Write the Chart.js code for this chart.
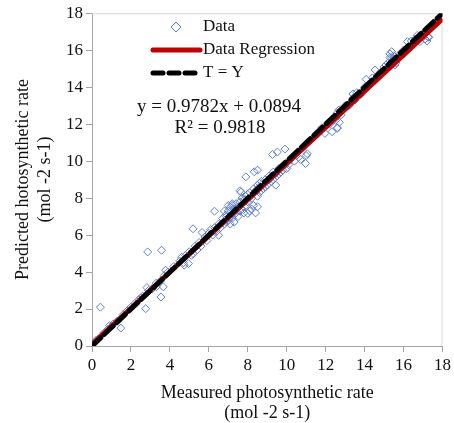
<!DOCTYPE html>
<html>
<head>
<meta charset="utf-8">
<script src="https://cdn.jsdelivr.net/npm/chart.js@4.4.1/dist/chart.umd.min.js"></script>
<style>
  html, body { margin: 0; padding: 0; background: #fff; }
  #wrap { width: 454px; height: 423px; }
</style>
</head>
<body>
<div id="wrap"><canvas id="scatterChart" width="454" height="423"></canvas></div>
<script>
// measured vs predicted photosynthetic rate
const measuredX = [
  0.43, 1.48, 2.76, 2.86, 3.57, 3.54, 3.66, 3.78, 2.82, 3.3, 5.19, 4.73, 4.95, 5.19, 5.65,
  6.29, 6.5, 7.65, 7.9, 8.33, 8.5, 8.0, 8.5, 9.27, 9.52, 9.91, 9.44, 10.97, 11.05, 10.71,
  11.96, 12.59, 12.67, 14.08, 14.54, 16.2, 17.26, 16.84, 15.56, 15.39, 13.4, 12.33,
  0.1, 0.2, 0.35, 0.6, 0.8, 0.9, 1.0, 1.1, 1.3, 1.6, 1.8, 2.0, 2.2, 2.4, 2.5, 2.6, 2.9,
  3.1, 3.3, 3.5, 3.7, 3.9, 4.2, 4.5, 4.6, 4.7, 4.8, 5.0, 5.1, 5.3, 5.4, 5.5, 5.6, 5.8,
  5.9, 6.0, 6.1, 6.2, 6.3, 6.4, 6.5, 6.6, 6.7, 6.8, 6.9, 6.9, 7.0, 7.0, 7.1, 7.1, 7.2,
  7.2, 7.3, 7.3, 7.4, 7.4, 7.5, 7.5, 7.6, 7.6, 7.7, 7.7, 7.8, 7.8, 7.9, 7.9, 8.0, 8.0,
  8.1, 8.1, 8.2, 8.2, 8.3, 8.3, 8.4, 8.4, 8.5, 8.5, 8.6, 8.6, 8.7, 8.7, 8.8, 8.8, 8.9,
  9.0, 9.1, 9.2, 9.3, 9.3, 9.4, 9.5, 9.6, 9.7, 9.8, 9.9, 10.0, 10.1, 10.2, 10.4, 10.5,
  10.6, 10.8, 11.0, 11.2, 11.4, 11.6, 11.8, 12.0, 12.2, 12.4, 12.5, 12.6, 12.8, 13.0,
  13.2, 13.4, 13.5, 13.6, 13.8, 14.0, 14.2, 14.4, 14.6, 14.8, 15.0, 15.1, 15.2, 15.3,
  15.4, 15.5, 15.5, 15.6, 15.8, 16.0, 16.2, 16.4, 16.6, 16.7, 16.9, 17.0, 17.1, 17.2, 17.3,
  6.8, 7.0, 7.2, 7.4, 7.1, 7.3, 6.9, 7.6, 8.6, 8.9, 9.1, 9.6, 12.6, 12.7, 15.3, 15.4, 15.6
];
const predictedY = [
  2.1, 0.97, 2.02, 5.09, 5.18, 2.65, 3.2, 4.1, 3.16, 3.2, 6.34, 4.37, 4.46, 5.0, 6.14,
  7.29, 5.99, 8.32, 9.15, 9.42, 9.51, 7.17, 7.53, 10.36, 10.49, 10.65, 8.7, 9.87, 10.4, 10.09,
  11.5, 11.77, 12.76, 14.42, 14.93, 16.46, 16.7, 16.46, 15.2, 15.92, 13.63, 11.59,
  0.15, 0.3, 0.4, 0.7, 0.9, 1.1, 1.05, 1.2, 1.35, 1.7, 1.9, 2.1, 2.3, 2.5, 2.6, 2.7, 3.0,
  3.1, 3.4, 3.5, 3.8, 4.0, 4.3, 4.6, 4.8, 4.5, 4.9, 5.1, 4.9, 5.4, 5.2, 5.6, 5.4, 5.9,
  5.7, 6.1, 6.3, 6.0, 6.4, 6.2, 6.6, 6.4, 6.9, 6.6, 7.1, 6.7, 7.3, 6.8, 7.5, 7.0, 7.6,
  6.9, 7.4, 7.1, 7.7, 7.2, 7.5, 7.0, 7.8, 7.3, 8.0, 7.4, 7.9, 7.2, 8.1, 7.6, 8.2, 7.8,
  8.3, 7.3, 8.0, 7.4, 8.5, 7.6, 8.4, 7.2, 8.7, 8.1, 8.6, 8.3, 8.9, 8.4, 8.8, 8.5, 9.0,
  8.7, 9.2, 8.9, 9.4, 9.0, 9.3, 9.2, 9.6, 9.4, 9.5, 9.8, 9.6, 9.8, 10.1, 10.0, 10.3,
  10.2, 10.7, 10.3, 11.1, 11.3, 11.5, 11.8, 11.9, 12.0, 12.3, 12.2, 12.6, 12.5, 13.0,
  13.0, 13.4, 13.3, 13.7, 13.6, 14.0, 14.1, 14.5, 14.5, 14.8, 15.1, 15.2, 15.3, 15.6,
  15.4, 15.7, 15.5, 15.5, 15.8, 16.0, 16.1, 16.5, 16.6, 16.8, 16.8, 16.9, 16.6, 16.5, 16.7,
  7.3, 7.6, 7.7, 7.4, 6.6, 6.7, 7.0, 8.4, 8.8, 8.6, 9.0, 9.3, 11.8, 12.1, 15.8, 15.6, 15.3
];

// fitted line and 1:1 line
const slope = 0.9782;
const intercept = 0.0894;
const lineRange = [0, 18];
const axisTicks = [0, 2, 4, 6, 8, 10, 12, 14, 16, 18];

const equationText = "y = 0.9782x + 0.0894";
const rSquaredText = "R\u00B2 = 0.9818";

const FONT = "'Liberation Serif', 'Times New Roman', serif";
const BLUE = "#5b82d6";
const RED = "#c00000";

const scatterPoints = measuredX.map((x, i) => ({ x: x, y: predictedY[i] }));
const regressionPoints = lineRange.map(x => ({ x: x, y: slope * x + intercept }));
const identityPoints = lineRange.map(x => ({ x: x, y: x }));

// light box around the plot area
const plotBox = {
  id: "plotBox",
  beforeDatasetsDraw(chart) {
    const { ctx, chartArea: a } = chart;
    ctx.save();
    ctx.strokeStyle = "#d9d9d9";
    ctx.lineWidth = 1;
    ctx.beginPath();
    ctx.moveTo(a.left, a.top + 0.5);
    ctx.lineTo(a.right - 0.5, a.top + 0.5);
    ctx.lineTo(a.right - 0.5, a.bottom);
    ctx.stroke();
    ctx.restore();
  }
};

// legend + equation inside the plot
const innerNotes = {
  id: "innerNotes",
  afterDatasetsDraw(chart) {
    const ctx = chart.ctx;
    ctx.save();
    ctx.font = "17px " + FONT;
    ctx.fillStyle = "#111";
    ctx.textBaseline = "middle";
    ctx.textAlign = "left";

    // Data
    ctx.strokeStyle = BLUE;
    ctx.lineWidth = 1;
    ctx.beginPath();
    ctx.moveTo(176, 22); ctx.lineTo(181, 27); ctx.lineTo(176, 32); ctx.lineTo(171, 27);
    ctx.closePath();
    ctx.stroke();
    ctx.fillText("Data", 203, 27);

    // Data Regression
    ctx.strokeStyle = RED;
    ctx.lineWidth = 5;
    ctx.lineCap = "round";
    ctx.beginPath(); ctx.moveTo(153, 50); ctx.lineTo(200, 50); ctx.stroke();
    ctx.fillText("Data Regression", 203, 50);

    // T = Y
    ctx.strokeStyle = "#000";
    ctx.setLineDash([10, 6]);
    ctx.beginPath(); ctx.moveTo(153, 73); ctx.lineTo(200, 73); ctx.stroke();
    ctx.setLineDash([]);
    ctx.fillText("T = Y", 203, 73);

    ctx.font = "19px " + FONT;
    ctx.textAlign = "center";
    ctx.fillText(equationText, 219, 107);
    ctx.fillText(rSquaredText, 220, 128);
    ctx.restore();
  }
};

const tickFont = { family: FONT, size: 17 };

new Chart(document.getElementById("scatterChart").getContext("2d"), {
  type: "scatter",
  data: {
    datasets: [
      {
        label: "Data",
        data: scatterPoints,
        pointStyle: "rectRot",
        pointRadius: 4,
        pointBorderWidth: 1,
        borderColor: BLUE,
        backgroundColor: "rgba(255,255,255,0)",
        order: 3
      },
      {
        type: "line",
        label: "Data Regression",
        data: regressionPoints,
        borderColor: RED,
        borderWidth: 5,
        pointRadius: 0,
        fill: false,
        order: 2
      },
      {
        type: "line",
        label: "T = Y",
        data: identityPoints,
        borderColor: "#000",
        borderWidth: 5,
        borderDash: [12, 5],
        borderCapStyle: "round",
        pointRadius: 0,
        fill: false,
        order: 1
      }
    ]
  },
  options: {
    responsive: false,
    animation: false,
    layout: { padding: { top: 13, right: 10, left: 0, bottom: 0 } },
    plugins: {
      legend: { display: false },
      tooltip: { enabled: false }
    },
    scales: {
      x: {
        type: "linear",
        min: 0,
        max: 18,
        afterBuildTicks: (scale) => { scale.ticks = axisTicks.map(v => ({ value: v })); },
        afterFit: (scale) => { scale.height = 77; },
        grid: { drawOnChartArea: false, drawTicks: true, tickLength: 6, color: "#a6a6a6" },
        border: { color: "#a6a6a6", width: 1 },
        ticks: { font: tickFont, color: "#111", padding: 3, maxRotation: 0 },
        title: {
          display: true,
          text: ["Measured photosynthetic rate", "(mol -2 s-1)"],
          font: { family: FONT, size: 18, lineHeight: 1.1 },
          color: "#111",
          padding: { top: 6, bottom: 0 }
        }
      },
      y: {
        type: "linear",
        min: 0,
        max: 18,
        afterBuildTicks: (scale) => { scale.ticks = axisTicks.map(v => ({ value: v })); },
        afterFit: (scale) => { scale.width = 92; },
        grid: { drawOnChartArea: false, drawTicks: true, tickLength: 6, color: "#a6a6a6" },
        border: { color: "#a6a6a6", width: 1 },
        ticks: { font: tickFont, color: "#111", padding: 3 },
        title: {
          display: true,
          text: ["Predicted hotosynthetic rate", "(mol -2 s-1)"],
          font: { family: FONT, size: 18, lineHeight: 1.25 },
          color: "#111",
          padding: { top: 12, bottom: 0 }
        }
      }
    }
  },
  plugins: [plotBox, innerNotes]
});
</script>
</body>
</html>
